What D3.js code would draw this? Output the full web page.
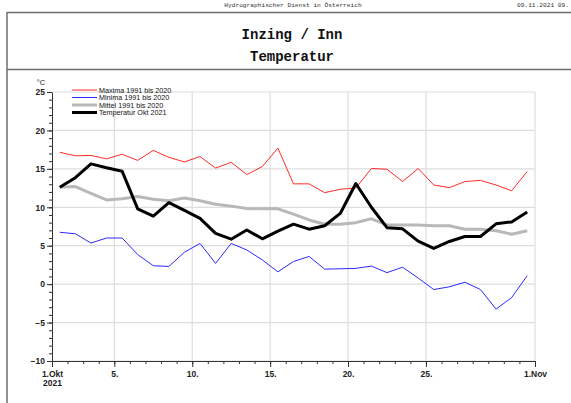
<!DOCTYPE html>
<html>
<head>
<meta charset="utf-8">
<script src="https://cdn.jsdelivr.net/npm/d3@7"></script>
<style>
  body { margin: 0; background: #fff; }
  svg { display: block; }
  .axis text { font-family: "Liberation Sans", Arial, sans-serif; font-size: 8.5px; fill: #222; font-weight: bold; }
  .axis path, .axis line { stroke: #333; }
  .legend text { font-family: "Liberation Sans", Arial, sans-serif; font-size: 7.2px; fill: #111; }
</style>
</head>
<body>
<div id="chart"></div>
<script>
// values, one per day (1. - 31. Oktober), plotted at midday
const days = d3.range(1, 32);
const maxima = [17.15, 16.7, 16.75, 16.3, 16.9, 16.1, 17.4, 16.5, 15.9, 16.6, 15.1, 15.85, 14.25, 15.3, 17.7, 13.05,
                13.05, 11.9, 12.35, 12.5, 15.05, 14.95, 13.35, 15.05, 12.9, 12.55, 13.35, 13.5, 12.9, 12.15, 14.65];
const minima = [6.75, 6.55, 5.35, 6.0, 6.0, 3.85, 2.4, 2.3, 4.15, 5.3, 2.7, 5.3, 4.45, 3.15, 1.6, 2.95,
                3.6, 1.95, 2.0, 2.05, 2.35, 1.5, 2.2, 0.8, -0.7, -0.35, 0.25, -0.7, -3.25, -1.75, 1.1];
const mittel = [12.6, 12.7, 11.8, 10.95, 11.1, 11.4, 11.05, 10.85, 11.2, 10.85, 10.4, 10.15, 9.85, 9.8, 9.8, 9.1,
                8.35, 7.8, 7.8, 8.0, 8.5, 7.7, 7.7, 7.7, 7.6, 7.6, 7.15, 7.15, 6.95, 6.5, 6.95];
const temp2021 = [12.6, 13.85, 15.65, 15.15, 14.7, 9.8, 8.85, 10.6, 9.6, 8.55, 6.6, 5.85, 7.05, 5.9, 6.9, 7.8,
                  7.15, 7.6, 9.2, 13.1, 10.0, 7.35, 7.2, 5.6, 4.65, 5.55, 6.2, 6.2, 7.85, 8.1, 9.4];

const seriesNames = ['Maxima 1991 bis 2020', 'Minima 1991 bis 2020', 'Mittel 1991 bis 2020', 'Temperatur Okt 2021'];
const yTicks = [-10, -5, 0, 5, 10, 15, 20, 25];
const xTicks = [1, 5, 10, 15, 20, 25, 32];
const xTickLabels = ['1.Okt|2021', '5.', '10.', '15.', '20.', '25.', '1.Nov'];

const width = 571, height = 403;
const plot = {left: 52, right: 535, top: 92, bottom: 361};

const svg = d3.select('#chart').append('svg')
    .attr('width', width)
    .attr('height', height);

// --- page frame and header ---
svg.append('text')
    .attr('x', 293).attr('y', 7)
    .attr('text-anchor', 'middle')
    .style('font-family', '"Liberation Mono", monospace')
    .style('font-size', '6.2px')
    .style('fill', '#333')
    .text('Hydrographischer Dienst in Österreich');
svg.append('text')
    .attr('x', 517).attr('y', 7)
    .style('font-family', '"Liberation Mono", monospace')
    .style('font-size', '6.2px')
    .style('fill', '#333')
    .text('09.11.2021 09.');

const frame = svg.append('g').attr('stroke', '#6e6e6e').attr('stroke-width', 1.5).attr('fill', 'none');
frame.append('line').attr('x1', 7).attr('x2', width).attr('y1', 12.5).attr('y2', 12.5);
frame.append('line').attr('x1', 7).attr('x2', width).attr('y1', 69.5).attr('y2', 69.5);
frame.append('line').attr('x1', 7).attr('x2', 7).attr('y1', 12).attr('y2', height);

svg.append('text')
    .attr('x', 292).attr('y', 38.5)
    .attr('text-anchor', 'middle')
    .style('font-family', '"Liberation Mono", monospace')
    .style('font-weight', 'bold')
    .style('font-size', '14px')
    .style('fill', '#111')
    .text('Inzing / Inn');
svg.append('text')
    .attr('x', 292).attr('y', 60.5)
    .attr('text-anchor', 'middle')
    .style('font-family', '"Liberation Mono", monospace')
    .style('font-weight', 'bold')
    .style('font-size', '14px')
    .style('fill', '#111')
    .text('Temperatur');

// --- scales ---
const x = d3.scaleLinear([1, 32], [plot.left, plot.right]);
const y = d3.scaleLinear([-10, 25], [plot.bottom, plot.top]);

// --- grid ---
const grid = svg.append('g').attr('stroke', '#dedede').attr('stroke-width', 1.2);
grid.selectAll('.h').data(yTicks).join('line')
    .attr('x1', plot.left).attr('x2', plot.right)
    .attr('y1', d => y(d)).attr('y2', d => y(d));
grid.selectAll('.v').data(xTicks.slice(1)).join('line')
    .attr('x1', d => x(d)).attr('x2', d => x(d))
    .attr('y1', plot.top).attr('y2', plot.bottom);

// --- axes ---
svg.append('g').attr('class', 'axis')
    .attr('transform', `translate(${plot.left},0)`)
    .call(d3.axisLeft(y).tickValues(d3.range(-10, 26)).tickSize(3).tickFormat(''))
    .call(g => g.select('.domain').remove());
svg.append('g').attr('class', 'axis')
    .attr('transform', `translate(${plot.left},0)`)
    .call(d3.axisLeft(y).tickValues(yTicks).tickSize(5).tickPadding(2).tickSizeOuter(0));

svg.append('g').attr('class', 'axis')
    .attr('transform', `translate(0,${plot.bottom})`)
    .call(d3.axisBottom(x).tickValues(d3.range(1, 33)).tickSize(3).tickFormat(''))
    .call(g => g.select('.domain').remove());
const xAxis = svg.append('g').attr('class', 'axis')
    .attr('transform', `translate(0,${plot.bottom})`)
    .call(d3.axisBottom(x).tickValues(xTicks).tickSize(6).tickPadding(4).tickSizeOuter(0)
        .tickFormat((d, i) => xTickLabels[i]));
xAxis.selectAll('.tick text').each(function(d, i) {
    const parts = xTickLabels[i].split('|');
    const t = d3.select(this).text('');
    parts.forEach((p, k) => t.append('tspan').attr('x', 0).attr('dy', k === 0 ? '0.71em' : '1.0em').text(p));
});

svg.append('text')
    .attr('x', 41).attr('y', 85)
    .attr('text-anchor', 'middle')
    .style('font-family', '"Liberation Sans", Arial, sans-serif')
    .style('font-size', '7.5px')
    .style('fill', '#222')
    .text('°C');

// --- lines ---
const line = d3.line()
    .x((d, i) => x(days[i] + 0.5))
    .y(d => y(d));

const series = [
    {values: maxima, color: '#ff2a2a', width: 1},
    {values: minima, color: '#2a2aff', width: 1},
    {values: mittel, color: '#b8b8b8', width: 3},
    {values: temp2021, color: '#000000', width: 3}
];

svg.append('g').selectAll('path').data(series).join('path')
    .attr('fill', 'none')
    .attr('stroke', d => d.color)
    .attr('stroke-width', d => d.width)
    .attr('stroke-linejoin', 'round')
    .attr('d', d => line(d.values));

// --- legend ---
const legend = svg.append('g').attr('class', 'legend');
const rows = legend.selectAll('g').data(series).join('g')
    .attr('transform', (d, i) => `translate(72,${90 + i * 7.5})`);
rows.append('line')
    .attr('x1', 0).attr('x2', 25)
    .attr('stroke', d => d.color)
    .attr('stroke-width', d => d.width);
rows.append('text')
    .attr('x', 27).attr('y', 2.6)
    .text((d, i) => seriesNames[i]);
</script>
</body>
</html>
